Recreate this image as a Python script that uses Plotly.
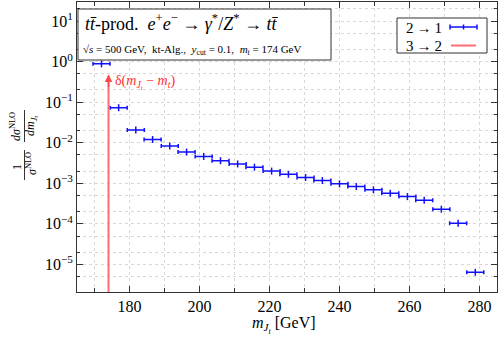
import plotly.graph_objects as go

# bin centres [GeV] and normalised NLO distribution
mjt_centres = [172.0, 176.9, 181.8, 186.6, 191.5, 196.3, 201.2, 206.0, 210.9, 215.7,
               220.6, 225.4, 230.3, 235.1, 240.0, 244.8, 249.7, 254.5, 259.4, 264.2,
               269.1, 273.9, 278.8]
bin_halfwidth = [2.43] * len(mjt_centres)
dsigma = [0.88, 0.073, 0.0206, 0.012, 0.0083, 0.0059, 0.0046, 0.0036, 0.0030, 0.0025,
          0.0020, 0.00167, 0.00139, 0.00117, 0.00097, 0.00083, 0.00069, 0.00057,
          0.00047, 0.00038, 0.00023, 0.000103, 6.4e-6]

m_top = 174.0
delta_y = [1e-6, 0.45]

y_major = [1e-5, 1e-4, 1e-3, 1e-2, 1e-1, 1e0, 1e1]
y_labels = ["10<sup>−5</sup>", "10<sup>−4</sup>", "10<sup>−3</sup>", "10<sup>−2</sup>",
            "10<sup>−1</sup>", "10<sup>0</sup>", "10<sup>1</sup>"]
y_minor = [m * d for d in [1e-6, 1e-5, 1e-4, 1e-3, 1e-2, 1e-1, 1e0, 1e1] for m in (2, 5)]

W, H = 498, 345
L, R, T, B = 77, 1, 2, 53
FONT = "Liberation Serif"
BLUE = "#1010ff"
RED = "#ff6e6e"


def px(x):
    return (x - L) / (W - L - R)


def py(y):
    return (H - B - y) / (H - T - B)


fig = go.Figure()

fig.add_trace(go.Scatter(
    x=mjt_centres, y=dsigma, mode="markers",
    marker=dict(symbol="line-ns", size=5, line=dict(color=BLUE, width=1.5)),
    error_x=dict(type="data", array=bin_halfwidth, color=BLUE, thickness=1.5, width=2),
    showlegend=False,
))

fig.add_trace(go.Scatter(
    x=[m_top, m_top], y=delta_y, mode="lines",
    line=dict(color=RED, width=2), showlegend=False,
))

ann = []
shapes = []

# arrow head on the delta line
ann.append(dict(x=m_top, y=-0.32, xref="x", yref="y", ax=0, ay=14, text="",
                showarrow=True, arrowhead=2, arrowsize=1, arrowwidth=1.5,
                arrowcolor="#ff4848"))
ann.append(dict(x=px(113), y=py(82), xref="paper", yref="paper", xanchor="left",
                yanchor="middle", showarrow=False,
                text="δ(<i>m</i><sub><i>J</i><sub><i>t</i></sub></sub> − <i>m</i><sub><i>t</i></sub>)",
                font=dict(family=FONT, size=14, color="#ff3030")))

# title box
shapes.append(dict(type="rect", xref="paper", yref="paper", x0=px(78), x1=px(331),
                   y0=py(60), y1=py(9), fillcolor="white", line=dict(color="#333", width=1)))
ann.append(dict(x=px(83), y=py(22), xref="paper", yref="paper", xanchor="left",
                yanchor="middle", showarrow=False,
                text="<i>tt̄</i>-prod.  <i>e</i><sup>+</sup><i>e</i><sup>−</sup> → "
                     "<i>γ</i><sup>*</sup>/<i>Z</i><sup>*</sup> → <i>tt̄</i>",
                font=dict(family=FONT, size=18, color="black")))
ann.append(dict(x=px(81), y=py(50), xref="paper", yref="paper", xanchor="left",
                yanchor="middle", showarrow=False,
                text="√<i>s</i> = 500 GeV,  kt-Alg.,  <i>y</i><sub>cut</sub> = 0.1,  "
                     "<i>m</i><sub><i>t</i></sub> = 174 GeV",
                font=dict(family=FONT, size=11, color="black")))

# legend box
shapes.append(dict(type="rect", xref="paper", yref="paper", x0=px(397), x1=px(487),
                   y0=py(53), y1=py(18), fillcolor="white", line=dict(color="#333", width=1)))
for txt, yy in (("2\u2009→\u20091", 28), ("3\u2009→\u20092", 46)):
    ann.append(dict(x=px(404), y=py(yy), xref="paper", yref="paper", xanchor="left",
                    yanchor="middle", showarrow=False, text=txt,
                    font=dict(family=FONT, size=15, color="black")))
shapes.append(dict(type="line", xref="paper", yref="paper", x0=px(450), x1=px(477),
                   y0=py(27), y1=py(27), line=dict(color=BLUE, width=1.5)))
for xx in (450, 463.5, 477):
    shapes.append(dict(type="line", xref="paper", yref="paper", x0=px(xx), x1=px(xx),
                       y0=py(24.5), y1=py(29.5), line=dict(color=BLUE, width=1.5)))
shapes.append(dict(type="line", xref="paper", yref="paper", x0=px(451), x1=px(476),
                   y0=py(45.5), y1=py(45.5), line=dict(color=RED, width=2)))

# y-axis title as two rotated fractions
yfont = dict(family=FONT, size=12, color="black")
for txt, xx, yy in (("1", 17, 167), ("<i>σ</i><sup>NLO</sup>", 31, 164),
                    ("<i>dσ</i><sup>NLO</sup>", 16, 126),
                    ("<i>dm</i><sub><i>J</i><sub><i>t</i></sub></sub>", 31, 126)):
    ann.append(dict(x=px(xx), y=py(yy), xref="paper", yref="paper", textangle=-90,
                    xanchor="center", yanchor="middle", showarrow=False, text=txt,
                    font=yfont))
for y0, y1 in ((150, 180), (110, 142)):
    shapes.append(dict(type="line", xref="paper", yref="paper", x0=px(24.5), x1=px(24.5),
                       y0=py(y0), y1=py(y1), line=dict(color="black", width=0.8)))

# x-axis title
ann.append(dict(x=px(284), y=py(325), xref="paper", yref="paper", xanchor="center",
                yanchor="middle", showarrow=False,
                text="<i>m</i><sub><i>J</i><sub><i>t</i></sub></sub> [GeV]",
                font=dict(family=FONT, size=16, color="black")))

grid = dict(showgrid=True, gridcolor="#d8d8d8", griddash="dot", gridwidth=1)

fig.update_layout(
    width=W, height=H,
    margin=dict(l=L, r=R, t=T, b=B, autoexpand=False),
    plot_bgcolor="white", paper_bgcolor="white",
    font=dict(family=FONT, size=16, color="black"),
    annotations=ann, shapes=shapes,
    xaxis=dict(
        range=[165, 285], tickvals=[180, 200, 220, 240, 260, 280],
        ticks="inside", ticklen=6, tickcolor="#333", mirror="allticks",
        showline=True, linecolor="#333", linewidth=1, zeroline=False, automargin=False,
        tickfont=dict(family=FONT, size=16),
        minor=dict(tickvals=[170, 190, 210, 230, 250, 270], ticks="inside", ticklen=4,
                   tickcolor="#333", **grid),
        **grid,
    ),
    yaxis=dict(
        type="log", range=[-5.68, 1.47], tickvals=y_major, ticktext=y_labels,
        ticks="inside", ticklen=6, tickcolor="#333", mirror="allticks",
        showline=True, linecolor="#333", linewidth=1, zeroline=False, automargin=False,
        tickfont=dict(family=FONT, size=16),
        minor=dict(tickvals=y_minor, ticks="inside", ticklen=3, tickcolor="#333", **grid),
        **grid,
    ),
)

# the page body has a default 8px margin; drop it so the figure fills the window
fig.write_html("out.html", config={"displayModeBar": False},
               post_script="document.body.style.margin='0';"
                           "document.body.style.overflow='hidden';")
